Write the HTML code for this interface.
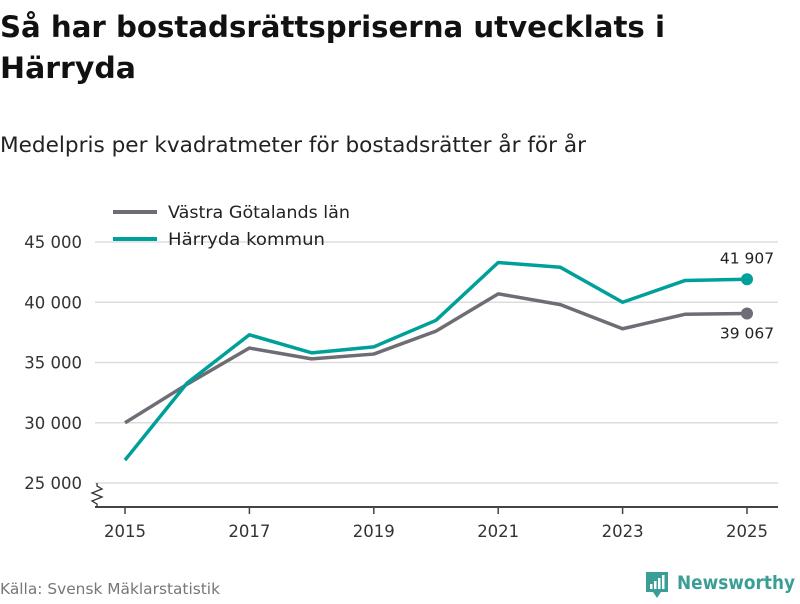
<!DOCTYPE html>
<html><head><meta charset="utf-8"><style>
body{margin:0;background:#fff;font-family:"DejaVu Sans","Liberation Sans",sans-serif;}
</style></head><body>
<svg width="800" height="600" xmlns="http://www.w3.org/2000/svg" font-family="DejaVu Sans, Liberation Sans, sans-serif">
<text x="0" y="37" font-size="29" font-weight="bold" fill="#111" textLength="665" lengthAdjust="spacingAndGlyphs">Så har bostadsrättspriserna utvecklats i</text>
<text x="0" y="78" font-size="29" font-weight="bold" fill="#111" textLength="136" lengthAdjust="spacingAndGlyphs">Härryda</text>
<text x="0" y="152" font-size="21" fill="#222" textLength="586" lengthAdjust="spacingAndGlyphs">Medelpris per kvadratmeter för bostadsrätter år för år</text>
<g id="grid"></g><g id="plot"></g>
<g>
<line x1="113" y1="212" x2="157" y2="212" stroke="#6e6c74" stroke-width="4"/>
<text x="168" y="218" font-size="16.5" fill="#222" textLength="182" lengthAdjust="spacingAndGlyphs">Västra Götalands län</text>
<line x1="113" y1="239" x2="157" y2="239" stroke="#00a09a" stroke-width="4"/>
<text x="168" y="245" font-size="16.5" fill="#222" textLength="157" lengthAdjust="spacingAndGlyphs">Härryda kommun</text>
</g>
<text x="0" y="594" font-size="15" fill="#777" textLength="220" lengthAdjust="spacingAndGlyphs">Källa: Svensk Mäklarstatistik</text>
<g>
<path d="M646 572 h22 v20 h-7 l-4 6 l-4 -6 h-7 z" fill="#3a9e96"/>
<rect x="650" y="584" width="2.5" height="5" fill="#fff"/><rect x="654" y="581" width="2.5" height="8" fill="#fff"/><rect x="658" y="578" width="2.5" height="11" fill="#fff"/><rect x="662" y="575" width="2.5" height="14" fill="#fff"/>
<text x="677" y="589" font-size="19" font-weight="bold" fill="#3a9e96" textLength="118" lengthAdjust="spacingAndGlyphs">Newsworthy</text>
</g>
</svg>
<script>
const years=[2015,2016,2017,2018,2019,2020,2021,2022,2023,2024,2025];
const vastra=[30000,33200,36200,35300,35700,37600,40700,39800,37800,39000,39067];
const harryda=[26900,33300,37300,35800,36300,38500,43300,42900,40000,41800,41907];
const yTicks=[25000,30000,35000,40000,45000];
const yTickLabels=["25 000","30 000","35 000","40 000","45 000"];
const xTicks=[2015,2017,2019,2021,2023,2025];
const ns="http://www.w3.org/2000/svg";
const xs=v=>125+(v-2015)*62.2;
const ys=v=>483-(v-25000)*241/20000;
function mk(t,a,p){const e=document.createElementNS(ns,t);for(const k in a)e.setAttribute(k,a[k]);p.appendChild(e);return e;}
const g=document.getElementById('grid'),p=document.getElementById('plot');
yTicks.forEach((t,i)=>{
 const l=mk('line',{x1:95,x2:778,y1:ys(t),y2:ys(t),stroke:'#ddd','stroke-width':1.5},g);
 
 
 const tx=mk('text',{x:82,y:ys(t)+6,'text-anchor':'end','font-size':16.5,fill:'#333'},g);
 tx.textContent=yTickLabels[i];
 
 
});
const ax=mk('line',{x1:95,x2:778,y1:507,y2:507,stroke:'#444','stroke-width':2},g);


const br=mk('path',{d:'M97 483 L97 486 L102 489 L92 493 L102 497 L92 501 L97 504 L97 507',fill:'none',stroke:'#333','stroke-width':1.3},g);


xTicks.forEach(t=>{
 mk('line',{x1:xs(t),x2:xs(t),y1:507,y2:514,stroke:'#444','stroke-width':1.5},g);
 const tx=mk('text',{x:xs(t),y:537,'text-anchor':'middle','font-size':16.5,fill:'#333'},g);
 tx.textContent=t;
 
 
});
function series(vals,color,name){
 const pl=mk('polyline',{points:vals.map((v,i)=>xs(years[i])+','+ys(v)).join(' '),fill:'none',stroke:color,'stroke-width':3.5,'stroke-linejoin':'round'},p);
 
 
 const n=vals.length-1;
 const c=mk('circle',{cx:xs(years[n]),cy:ys(vals[n]),r:6,fill:color},p);
 
 
 return [xs(years[n]),ys(vals[n])];
}
const a=series(vastra,'#6e6c74','vastra');
const b=series(harryda,'#00a09a','harryda');
const fmt=v=>String(Math.round(v)).replace(/\B(?=(\d{3})+$)/g,' ');
let t1=mk('text',{x:a[0],y:a[1]+25,'text-anchor':'middle','font-size':15.5,fill:'#222'},p);
t1.textContent=fmt(vastra[vastra.length-1]);


let t2=mk('text',{x:b[0],y:b[1]-16,'text-anchor':'middle','font-size':15.5,fill:'#222'},p);
t2.textContent=fmt(harryda[harryda.length-1]);


</script>
</body></html>
